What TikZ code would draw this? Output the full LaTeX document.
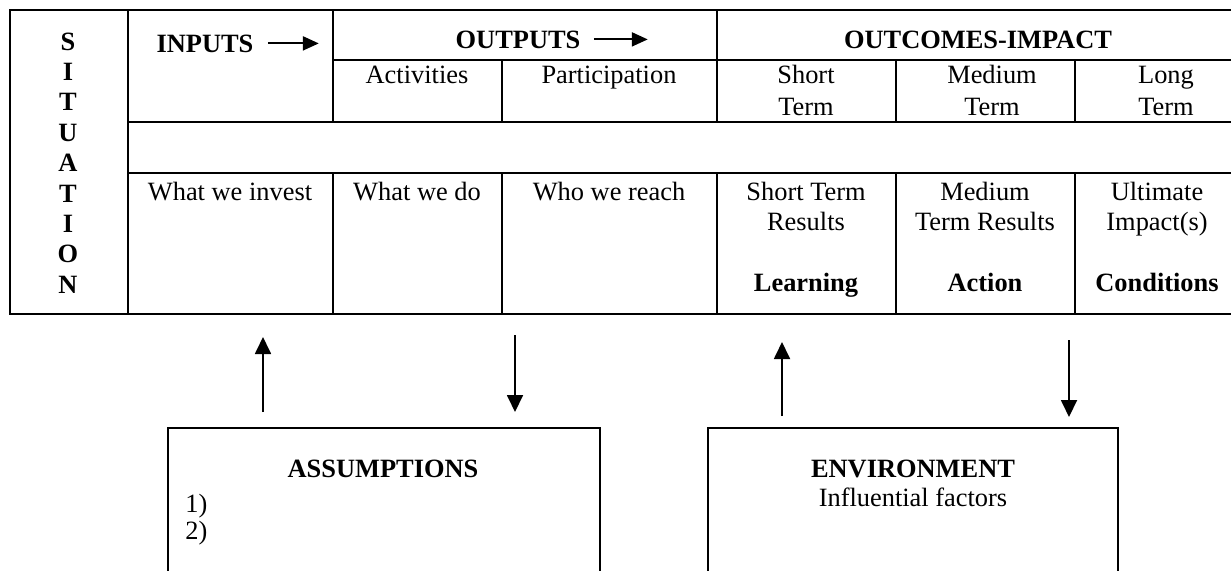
\documentclass[tikz,border=0pt]{standalone}
\usepackage{fontspec}
\setmainfont{Liberation Serif}
\usetikzlibrary{arrows.meta}

\begin{document}
\begin{tikzpicture}[x=0.5pt,y=-0.5pt,
		grid/.style={line width=1pt},
		txt/.style={anchor=base,inner sep=0pt,font=\fontsize{13.2}{15}\selectfont},
		hd/.style={anchor=base,inner sep=0pt,font=\fontsize{13.2}{15}\selectfont\bfseries},
		hdarrow/.style={line width=1.1pt,-{Triangle[length=8pt,width=7pt]}},
		flow/.style={line width=0.9pt,-{Triangle[length=8.5pt,width=8pt]}}]
		\useasboundingbox (0,0) rectangle (1231,570);
		% Draw table frame
		\draw[grid] (1260,10) -- (10,10) -- (10,314) -- (1260,314);
		\draw[grid] (128,10) -- (128,314);
		\draw[grid] (333,60) -- (1260,60);
		\draw[grid] (128,122) -- (1260,122);
		\draw[grid] (128,173) -- (1260,173);
		% Column rules (the blank row has none)
		\draw[grid] (333,10) -- (333,122) (333,173) -- (333,314);
		\draw[grid] (717,10) -- (717,122) (717,173) -- (717,314);
		\foreach \cx in {502,896,1075}
			\draw[grid] (\cx,60) -- (\cx,122) (\cx,173) -- (\cx,314);
		% Situation column
		\foreach \ch [count=\i from 0] in {S,I,T,U,A,T,I,O,N}
			\node[hd] (sit\i) at (68,{50+30.4*\i}) {\ch};
		% Headings
		\node[hd] (inputs) at (205,52) {INPUTS};
		\draw[hdarrow] ([xshift=7pt]inputs.east) -- ([xshift=32.5pt]inputs.east);
		\node[hd] (outputs) at (518,48) {OUTPUTS};
		\draw[hdarrow] ([xshift=6.5pt]outputs.east) -- ([xshift=33.5pt]outputs.east);
		\node[hd] (outcomes) at (978,48) {OUTCOMES-IMPACT};
		% Sub-headings
		\node[txt] (activities) at (417,83) {Activities};
		\node[txt] (particip) at (609,83) {Participation};
		\node[txt] (short) at (806,83) {Short};
		\node[txt] (shortterm) at (806,115) {Term};
		\node[txt] (medium) at (992,83) {Medium};
		\node[txt] (mediumterm) at (992,115) {Term};
		\node[txt] (long) at (1166,83) {Long};
		\node[txt] (longterm) at (1166,115) {Term};
		% Bottom row
		\node[txt] (invest) at (230,200) {What we invest};
		\node[txt] (wedo) at (417,200) {What we do};
		\node[txt] (wereach) at (609,200) {Who we reach};
		\node[txt] (shortres) at (806,200) {Short Term};
		\node[txt] (shortres2) at (806,230) {Results};
		\node[hd] (learning) at (806,291) {Learning};
		\node[txt] (medres) at (985,200) {Medium};
		\node[txt] (medres2) at (985,230) {Term Results};
		\node[hd] (action) at (985,291) {Action};
		\node[txt] (ultimate) at (1157,200) {Ultimate};
		\node[txt] (impacts) at (1157,230) {Impact(s)};
		\node[hd] (conditions) at (1157,291) {Conditions};
		% Assumptions and environment boxes
		\draw[grid] (168,590) -- (168,428) -- (600,428) -- (600,590);
		\node[hd] (assump) at (383,477) {ASSUMPTIONS};
		\node[txt,anchor=base west] (assone) at (185,512) {1)};
		\node[txt,anchor=base west] (asstwo) at (185,539) {2)};
		\draw[grid] (708,590) -- (708,428) -- (1118,428) -- (1118,590);
		\node[hd] (environ) at (913,477) {ENVIRONMENT};
		\node[txt] (factors) at (913,506) {Influential factors};
		% Feedback arrows
		\coordinate (upA) at (263,412);
		\coordinate (upAtip) at (263,337);
		\coordinate (downA) at (515,335);
		\coordinate (downAtip) at (515,412);
		\coordinate (upE) at (782,416);
		\coordinate (upEtip) at (782,342);
		\coordinate (downE) at (1069,340);
		\coordinate (downEtip) at (1069,417);
		\draw[flow] (upA) -- (upAtip);
		\draw[flow] (downA) -- (downAtip);
		\draw[flow] (upE) -- (upEtip);
		\draw[flow] (downE) -- (downEtip);
	\end{tikzpicture}
\end{document}
